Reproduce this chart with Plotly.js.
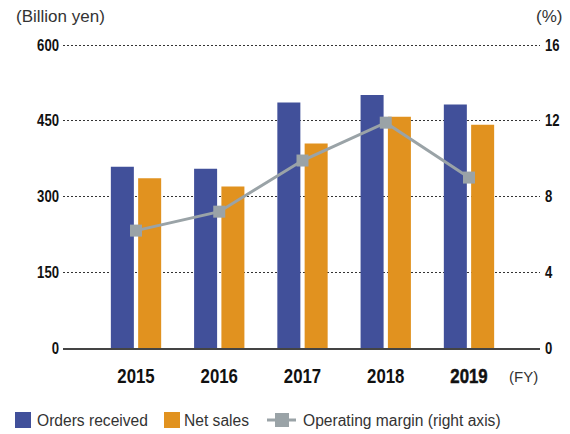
<!DOCTYPE html>
<html>
<head>
<meta charset="utf-8">
<script src="https://cdn.plot.ly/plotly-3.0.1.min.js"></script>
<style>
  html, body { margin: 0; padding: 0; background: #fff; }
  #chart { width: 570px; height: 434px; }
</style>
</head>
<body>
<div id="chart"></div>
<script>
// ---- Data ----
const years = ['2015', '2016', '2017', '2018', '2019'];
const yearLabels = ['2015', '2016', '2017', '2018', '2019'];
const ordersReceived = [359, 355, 486, 501, 482];   // Billion yen
const netSales = [336, 320, 405, 458, 442];         // Billion yen
const operatingMargin = [6.2, 7.2, 9.9, 11.9, 9.0]; // %
const leftTicks = [0, 150, 300, 450, 600];
const rightTicks = [0, 4, 8, 12, 16];

const BLUE = '#41509A';
const ORANGE = '#E1921F';
const GRAY = '#9AA3A7';
const TEXT = '#333333';
const SANS = '"Liberation Sans", Arial, Helvetica, sans-serif';

const traces = [
  {
    type: 'bar', name: 'Orders received', x: years, y: ordersReceived,
    marker: { color: BLUE }, yaxis: 'y', hoverinfo: 'y'
  },
  {
    type: 'bar', name: 'Net sales', x: years, y: netSales,
    marker: { color: ORANGE }, yaxis: 'y', hoverinfo: 'y'
  },
  {
    type: 'scatter', mode: 'lines+markers', name: 'Operating margin (right axis)',
    x: years, y: operatingMargin, yaxis: 'y2',
    line: { color: GRAY, width: 3 },
    marker: { color: GRAY, symbol: 'square', size: 12 },
    hoverinfo: 'y'
  }
];

// plot area: x 63..540, y 43..348 px (600 sits ~2px below the top edge)
const L = 63, R = 540, T = 43, B = 348;
const px = v => (v - L) / (R - L);
const py = v => (B - v) / (B - T);

const legendY = 420;
const shapes = [
  { type: 'rect', xref: 'paper', yref: 'paper', x0: px(15), x1: px(31), y0: py(428), y1: py(412), fillcolor: BLUE, line: { width: 0 } },
  { type: 'rect', xref: 'paper', yref: 'paper', x0: px(164), x1: px(180), y0: py(428), y1: py(412), fillcolor: ORANGE, line: { width: 0 } },
  { type: 'line', xref: 'paper', yref: 'paper', x0: px(267), x1: px(296), y0: py(legendY), y1: py(legendY), line: { color: GRAY, width: 3 } },
  { type: 'rect', xref: 'paper', yref: 'paper', x0: px(275), x1: px(289), y0: py(427), y1: py(413), fillcolor: GRAY, line: { width: 0 } }
];

const annotations = [
  { text: '(Billion yen)', xref: 'paper', yref: 'paper', x: px(14), y: py(17), xanchor: 'left', yanchor: 'middle', showarrow: false, font: { family: SANS, size: 17, color: TEXT } },
  { text: '(%)', xref: 'paper', yref: 'paper', x: px(564), y: py(17), xanchor: 'right', yanchor: 'middle', showarrow: false, font: { family: SANS, size: 17, color: TEXT } },
  { text: '(FY)', xref: 'paper', yref: 'paper', x: px(540), y: py(376), xanchor: 'right', yanchor: 'middle', showarrow: false, font: { family: SANS, size: 15, color: TEXT } },
  { text: 'Orders received', xref: 'paper', yref: 'paper', x: px(35), y: py(legendY), xanchor: 'left', yanchor: 'middle', showarrow: false, font: { family: SANS, size: 15.6, color: TEXT } },
  { text: 'Net sales', xref: 'paper', yref: 'paper', x: px(182), y: py(legendY), xanchor: 'left', yanchor: 'middle', showarrow: false, font: { family: SANS, size: 15.6, color: TEXT } },
  { text: 'Operating margin (right axis)', xref: 'paper', yref: 'paper', x: px(301), y: py(legendY), xanchor: 'left', yanchor: 'middle', showarrow: false, font: { family: SANS, size: 15.6, color: TEXT } }
];

const TOP = 604; // headroom so the 600 gridline (2px below the edge) is drawn
const layout = {
  width: 570, height: 434,
  margin: { l: L, r: 570 - R, t: T, b: 434 - B },
  paper_bgcolor: '#ffffff', plot_bgcolor: '#ffffff',
  showlegend: false,
  barmode: 'group',
  bargap: 0.344,
  bargroupgap: 0.157,
  xaxis: {
    type: 'category',
    range: [-0.877, 4.853],
    tickvals: years, ticktext: yearLabels,
    tickfont: { family: SANS, size: 20.5, color: '#111111', weight: 'bold' },
    showgrid: false, zeroline: false,
    showline: true, linecolor: '#444444', linewidth: 2,
    ticks: '', ticklabelstandoff: 8,
    fixedrange: true
  },
  yaxis: {
    range: [0, TOP], tickvals: leftTicks,
    tickfont: { family: SANS, size: 16, color: '#111111', weight: 'bold' },
    showgrid: true, gridcolor: '#333333', gridwidth: 1, griddash: '2px,2px',
    zeroline: false, showline: false, ticks: '', ticklabelstandoff: 3,
    fixedrange: true
  },
  yaxis2: {
    overlaying: 'y', side: 'right',
    range: [0, 16 * TOP / 600], tickvals: rightTicks,
    tickfont: { family: SANS, size: 16, color: '#111111', weight: 'bold' },
    showgrid: false, zeroline: false, showline: false, ticks: '', ticklabelstandoff: 4,
    fixedrange: true
  },
  shapes: shapes,
  annotations: annotations
};

Plotly.newPlot('chart', traces, layout, { displayModeBar: false, staticPlot: true }).then(gd => {
  // Condense tick labels horizontally (like a narrow/condensed face)
  gd.querySelectorAll('.xtick text, .ytick text, .y2tick text').forEach(t => {
    const x = parseFloat(t.getAttribute('x')) || 0;
    const y = parseFloat(t.getAttribute('y')) || 0;
    const prev = t.getAttribute('transform') || '';
    t.setAttribute('transform', prev + ' translate(' + x + ',' + y + ') scale(0.82,1) translate(' + (-x) + ',' + (-y) + ')');
    if (t.textContent.trim() === '2019') {
      t.style.stroke = '#111111';
      t.style.strokeWidth = '0.5px';
      t.style.paintOrder = 'stroke';
    }
  });
});
</script>
</body>
</html>
